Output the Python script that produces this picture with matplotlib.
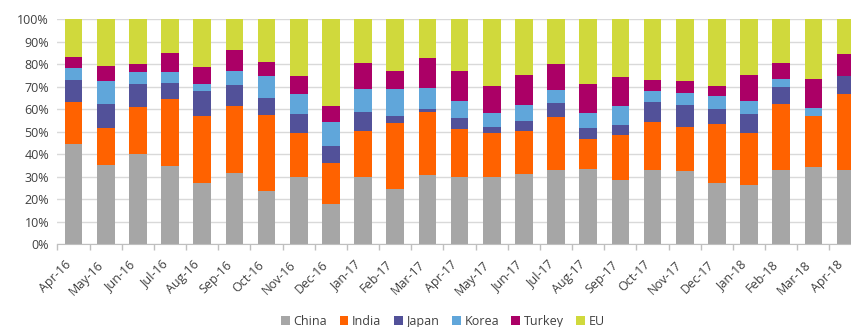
import matplotlib.pyplot as plt
import matplotlib.transforms as mtransforms
import numpy as np

plt.rcParams['font.family'] = ['Open Sans', 'DejaVu Sans']

months = ['Apr-16', 'May-16', 'Jun-16', 'Jul-16', 'Aug-16', 'Sep-16', 'Oct-16', 'Nov-16',
          'Dec-16', 'Jan-17', 'Feb-17', 'Mar-17', 'Apr-17', 'May-17', 'Jun-17', 'Jul-17',
          'Aug-17', 'Sep-17', 'Oct-17', 'Nov-17', 'Dec-17', 'Jan-18', 'Feb-18', 'Mar-18', 'Apr-18']

# shares in %
china = [44.5, 35.2, 39.9, 34.8, 27.4, 31.8, 23.7, 30.0, 17.9, 29.7, 24.6, 30.9, 30.0,
         30.0, 31.2, 33.0, 33.3, 28.6, 33.0, 32.4, 27.4, 26.3, 33.0, 34.2, 33.0]
india = [18.7, 16.6, 20.9, 29.5, 29.4, 29.6, 33.7, 19.3, 18.0, 20.4, 29.1, 28.0, 21.0,
         19.3, 18.9, 23.5, 13.3, 20.1, 21.4, 19.8, 26.2, 23.1, 29.3, 22.9, 33.7]
japan = [9.7, 10.6, 10.4, 7.1, 11.1, 9.2, 7.4, 8.5, 7.7, 8.6, 3.3, 1.2, 5.1,
         2.8, 4.8, 6.2, 5.2, 4.4, 8.9, 9.6, 6.5, 8.4, 7.7, 0.0, 7.9]
korea = [5.2, 10.2, 5.3, 5.1, 3.4, 6.2, 9.8, 8.8, 10.5, 10.1, 12.1, 9.1, 7.7,
         6.2, 6.8, 5.9, 6.5, 8.3, 4.7, 5.4, 5.6, 6.0, 3.5, 3.4, 0.0]
turkey = [4.9, 6.7, 3.4, 8.4, 7.4, 9.3, 6.5, 8.1, 7.3, 11.5, 8.0, 13.6, 13.3,
          12.0, 13.3, 11.3, 12.7, 12.7, 4.9, 5.1, 4.6, 11.2, 7.1, 13.0, 9.7]
eu = [17.0, 20.7, 20.1, 15.1, 21.3, 13.9, 18.9, 25.3, 38.6, 19.7, 22.9, 17.2, 22.9,
      29.7, 25.0, 20.1, 29.0, 25.9, 27.1, 27.7, 29.7, 25.0, 19.4, 26.5, 15.7]

series = [('China', china, '#a6a6a6'),
          ('India', india, '#ff6200'),
          ('Japan', japan, '#525199'),
          ('Korea', korea, '#60a6da'),
          ('Turkey', turkey, '#ab0066'),
          ('EU', eu, '#d0d93c')]

fig = plt.figure(figsize=(8.51, 3.27), dpi=100)
ax = fig.add_axes([0.0675, 0.2529, 0.945, 0.689])

x = np.arange(len(months))
bottom = np.zeros(len(months))
for name, vals, col in series:
    ax.bar(x, vals, 0.55, bottom=bottom, color=col, label=name, zorder=3)
    bottom += np.array(vals)

ax.set_xlim(-0.5, len(months) - 0.5)
ax.set_ylim(0, 100)
ax.set_yticks(np.arange(0, 101, 10))
ax.set_yticklabels([f'{v}%' for v in range(0, 101, 10)])
ax.yaxis.grid(True, color='#d9d9d9', linewidth=1, zorder=0)
ax.set_axisbelow(True)

ax.set_xticks(x)
ax.set_xticklabels(months, rotation=45, ha='right')
# nudge the rotated labels a touch to the right, like the original
shift = mtransforms.ScaledTranslation(2 / 100, 0, fig.dpi_scale_trans)
for lab in ax.get_xticklabels():
    lab.set_transform(lab.get_transform() + shift)
ax.set_xticks(np.arange(-0.5, len(months), 1), minor=True)
ax.tick_params(axis='x', which='major', length=0, pad=10, labelsize=9, labelcolor='#404040')
ax.tick_params(axis='x', which='minor', length=4, color='#bfbfbf', width=1)
ax.tick_params(axis='y', length=0, pad=6, labelsize=9, labelcolor='#404040')

for s in ['top', 'right', 'left']:
    ax.spines[s].set_visible(False)
ax.spines['bottom'].set_color('#bfbfbf')
ax.spines['bottom'].set_zorder(4)

fig.legend(loc='center', bbox_to_anchor=(443 / 851, 5.3 / 327), ncol=6, frameon=False,
           fontsize=9, handlelength=0.7, handleheight=0.7, handletextpad=0.3,
           columnspacing=1.0, labelcolor='#404040')

fig.savefig('out.png', dpi=100)
